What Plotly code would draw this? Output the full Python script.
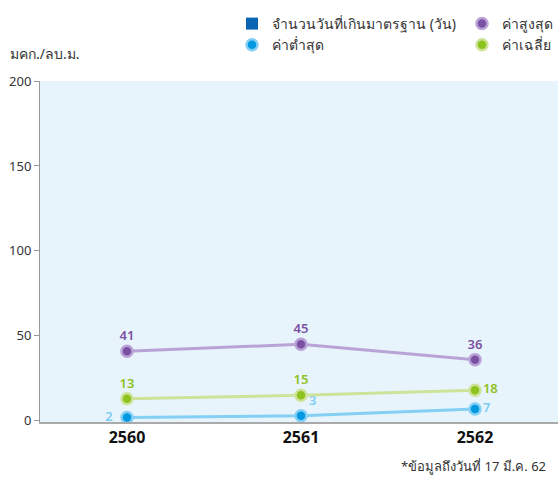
import plotly.graph_objects as go

years = ["2560", "2561", "2562"]
days_over = [0, 0, 0]
max_vals = [41, 45, 36]
min_vals = [2, 3, 7]
avg_vals = [13, 15, 18]

max_pos = ["top center", "top center", "top center"]
min_pos = ["middle left", "top right", "middle right"]
avg_pos = ["top center", "top center", "middle right"]

FONT = "Noto Sans, DejaVu Sans, sans-serif"

fig = go.Figure()
fig.add_trace(go.Bar(
    x=years, y=days_over, name="จำนวนวันที่เกินมาตรฐาน (วัน)",
    marker=dict(color="#0a64b4", line=dict(width=0)), hoverinfo="skip",
    legend="legend", legendgroup="a",
))

def add_series(vals, name, dot, ring, txt, pos, leg, grp):
    fig.add_trace(go.Scatter(
        x=years, y=vals, mode="lines", line=dict(color=ring, width=3),
        showlegend=False, hoverinfo="skip",
    ))
    labels = [(str(v) + "\u2002") if p == "middle left" else str(v) for v, p in zip(vals, pos)]
    fig.add_trace(go.Scatter(
        x=years, y=vals, name=name, mode="markers+text",
        text=labels, textposition=pos,
        textfont=dict(color=txt, size=13, family=FONT, weight=600),
        marker=dict(color=dot, size=11, line=dict(color=ring, width=2.5)),
        hoverinfo="skip", legend=leg, legendgroup=grp,
    ))

add_series(max_vals, "ค่าสูงสุด", "#7b52a3", "#b9a3d6", "#7b52a3", max_pos, "legend2", "c")
add_series(min_vals, "ค่าต่ำสุด", "#0098e0", "#84cff4", "#7ccdf3", min_pos, "legend", "b")
add_series(avg_vals, "ค่าเฉลี่ย", "#8dc21f", "#cde39a", "#8dc21f", avg_pos, "legend2", "d")

leg_common = dict(orientation="v", yanchor="top", xanchor="left",
                  font=dict(size=14, color="#333333"), bgcolor="rgba(0,0,0,0)",
                  itemwidth=30, tracegroupgap=0)

fig.update_layout(
    width=558, height=477,
    margin=dict(l=40, r=0, t=81, b=55, autoexpand=False),
    paper_bgcolor="white", plot_bgcolor="#e8f4fc",
    font=dict(family=FONT, size=13, color="#333333"),
    showlegend=True,
    legend=dict(x=(232 - 40) / 518, y=(422 - 8) / 341, **leg_common),
    legend2=dict(x=(462 - 40) / 518, y=(422 - 8) / 341, **leg_common),
    xaxis=dict(type="category", range=[-0.5, 2.477], showgrid=False,
               showline=True, linecolor="#aaaaaa", linewidth=2, ticks="",
               tickfont=dict(size=16, color="#111111", family=FONT, weight="bold"),
               zeroline=False, fixedrange=True),
    yaxis=dict(range=[-0.7, 200], tickvals=[0, 50, 100, 150, 200], showgrid=False,
               showline=True, linecolor="#999999", linewidth=1, ticks="outside",
               ticklen=5, tickcolor="#999999", zeroline=False, fixedrange=True,
               tickfont=dict(size=13, color="#333333")),
    annotations=[
        dict(text="มคก./ลบ.ม.", xref="paper", yref="paper", x=-0.062, y=1.08,
             xanchor="left", yanchor="middle", showarrow=False,
             font=dict(size=14, color="#333333")),
        dict(text="*ข้อมูลถึงวันที่ 17 มี.ค. 62", xref="paper", yref="paper",
             x=0.98, y=-0.13, xanchor="right", yanchor="middle", showarrow=False,
             font=dict(size=13, color="#333333")),
    ],
)

fig.write_html("out.html", config={"displayModeBar": False},
               post_script="document.body.style.margin='0';document.body.style.overflow='hidden';")
